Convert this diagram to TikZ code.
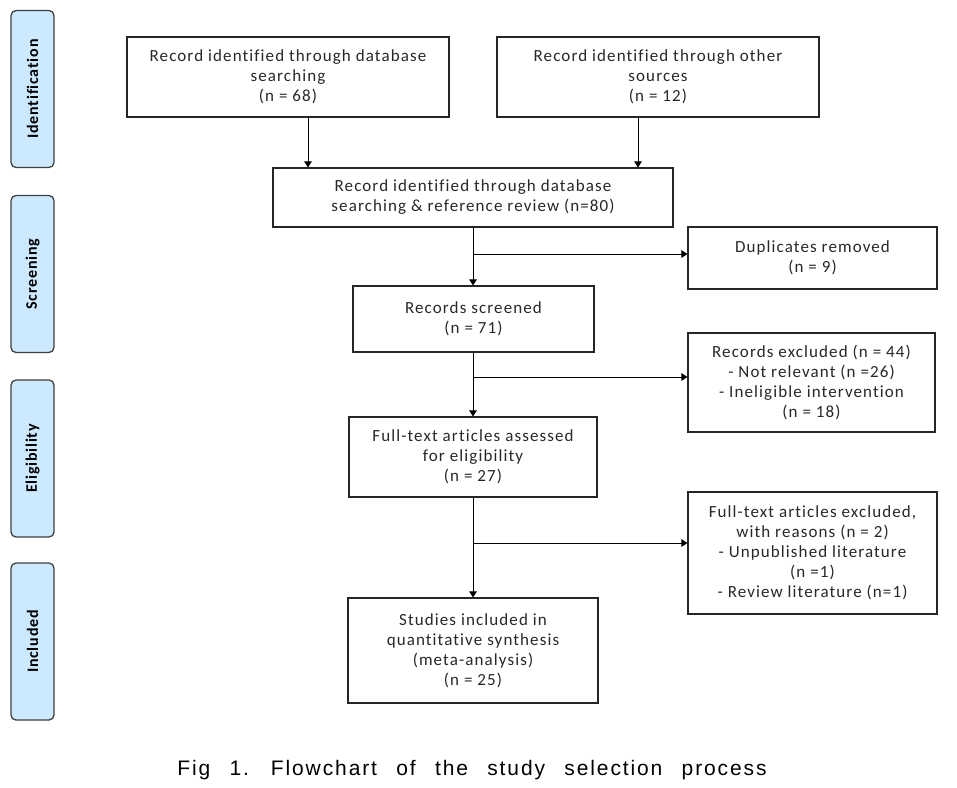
\documentclass[tikz,border=0pt]{standalone}
\usepackage{fontspec}
\setmainfont{Carlito}[LetterSpace=6.5, Ligatures={NoCommon}]
\newfontfamily\sidefont{Carlito}[LetterSpace=5, Ligatures={NoCommon}]
\newfontfamily\capfont{Liberation Sans}[LetterSpace=9, WordSpace=2.5]
\usetikzlibrary{arrows.meta}
\definecolor{sidefill}{HTML}{CCE9FF}
\definecolor{txt}{HTML}{262A26}
\tikzset{
  box/.style={draw=black!85, line width=1.1pt, fill=white, align=center, inner sep=0pt,
    font=\fontsize{17}{20}\selectfont, text=txt},
  side/.style={draw=black!75, line width=1.3pt, fill=sidefill, rounded corners=5pt,
    minimum width=43pt, minimum height=157pt, inner sep=0pt,
    font=\sidefont\fontsize{16}{18}\selectfont\bfseries},
  arr/.style={-{Triangle[length=6pt,width=7.5pt]}, line width=1pt, black}
}
\begin{document}
\begin{tikzpicture}[x=1pt,y=-1pt]
\useasboundingbox (0,0) rectangle (957,787);
% side labels
\node[side] (s1) at (32.5,89) {\rotatebox{90}{Identification}};
\node[side] (s2) at (32.5,274) {\rotatebox{90}{Screening}};
\node[side] (s3) at (32.5,458.5) {\rotatebox{90}{Eligibility}};
\node[side] (s4) at (32.5,641.5) {\rotatebox{90}{Included}};
% boxes
\node[box, minimum width=322pt, minimum height=80pt] (b1) at (288,77)
  {Record identified through database\\searching\\(n = 68)};
\node[box, minimum width=322pt, minimum height=80pt] (b2) at (658,77)
  {Record identified through other\\sources\\(n = 12)};
\node[box, minimum width=400pt, minimum height=59pt] (b3) at (473,197.5)
  {Record identified through database\\searching \& reference review (n=80)};
\node[box, minimum width=249pt, minimum height=62pt] (dup) at (812.5,258)
  {Duplicates removed\\(n = 9)};
\node[box, minimum width=241pt, minimum height=66pt] (scr) at (473.5,319)
  {Records screened\\(n = 71)};
\node[box, minimum width=247pt, minimum height=99pt] (exc) at (811.5,382.5)
  {Records excluded (n = 44)\\- Not relevant (n =26)\\- Ineligible intervention\\(n = 18)};
\node[box, minimum width=248pt, minimum height=80pt] (fta) at (473,457)
  {Full-text articles assessed\\for eligibility\\(n = 27)};
\node[box, minimum width=249pt, minimum height=122pt] (fte) at (812.5,553)
  {Full-text articles excluded,\\with reasons (n = 2)\\- Unpublished literature\\(n =1)\\- Review literature (n=1)};
\node[box, minimum width=250pt, minimum height=105pt] (inc) at (473,650.5)
  {Studies included in\\quantitative synthesis\\(meta-analysis)\\(n = 25)};
% connectors
\coordinate (a1) at (308,117);
\coordinate (a2) at (638,117);
\draw[arr] (a1) -- (a1 |- b3.north);
\draw[arr] (a2) -- (a2 |- b3.north);
\draw[arr] (b3.south) -- (scr.north -| b3.south);
\draw[arr] (scr.south -| b3.south) -- (fta.north);
\draw[arr] (fta.south) -- (inc.north);
\coordinate (j1) at (473,254);
\coordinate (j2) at (473,377);
\coordinate (j3) at (473,543);
\draw[arr] (j1) -- (j1 -| dup.west);
\draw[arr] (j2) -- (j2 -| exc.west);
\draw[arr] (j3) -- (j3 -| fte.west);
% caption
\node[font=\capfont\fontsize{21}{24}\selectfont, anchor=center] (cap) at (472,770)
  {Fig 1. Flowchart of the study selection process};
\end{tikzpicture}
\end{document}
